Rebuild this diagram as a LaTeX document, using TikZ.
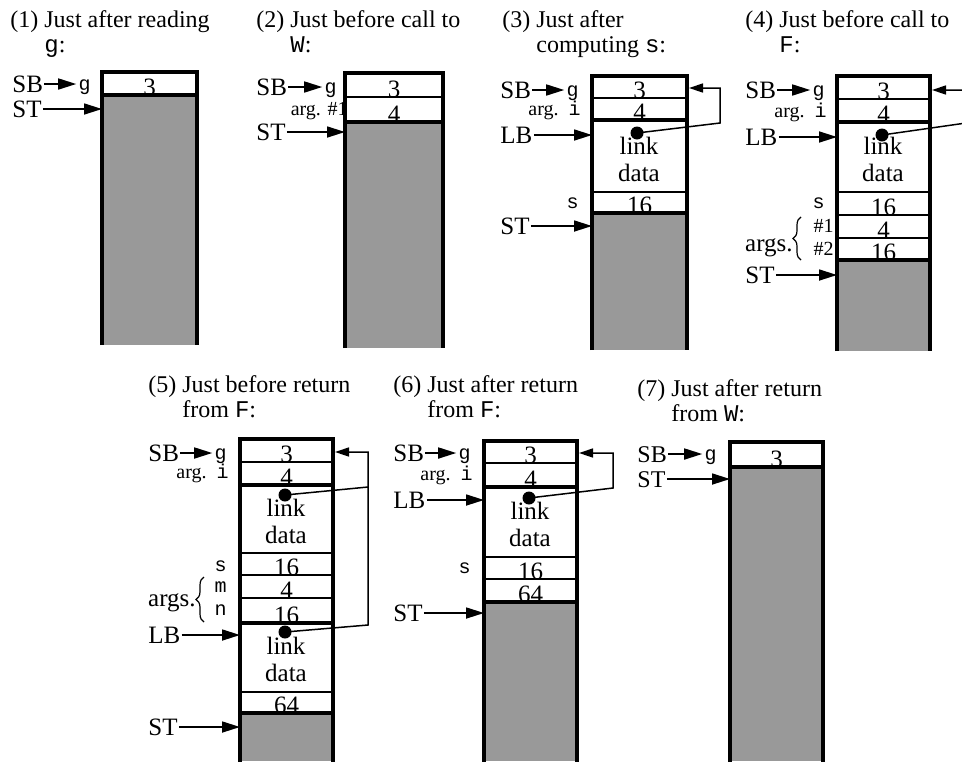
\documentclass[tikz,border=0pt]{standalone}
\usepackage{fontspec}
\setmainfont{Liberation Serif}
\setmonofont{Liberation Mono}
\usetikzlibrary{arrows.meta,decorations.pathreplacing}

\tikzset{
    frame/.style={line width=1.6pt},
    slot/.style={line width=0.7pt},
    sep/.style={line width=1.6pt},
    free/.style={fill=black!40},
    ptr/.style={-{Triangle[length=9pt,width=5.5pt]}, line width=0.85pt},
    back/.style={-{Triangle[length=7pt,width=4.5pt]}, line width=0.75pt},
    title/.style={anchor=north west, align=left, inner sep=0pt, font=\fontsize{12}{12.5}\selectfont},
    reg/.style={anchor=west, inner sep=0.5pt, text height=8.4pt, text depth=0pt, font=\fontsize{12.5}{12.5}\selectfont},
    var/.style={anchor=east, inner sep=1pt, text height=7pt, text depth=1.5pt, font=\fontsize{10}{10}\ttfamily},
    small/.style={anchor=east, inner sep=0pt, text height=7pt, text depth=1.5pt, font=\fontsize{10}{10}\selectfont},
    val/.style={anchor=base, inner sep=0pt, font=\fontsize{12.5}{12.5}\selectfont},
    link/.style={align=center, inner sep=0pt, font=\fontsize{12.5}{13.5}\selectfont},
    dot/.style={circle, fill, inner sep=0pt, minimum size=6.5pt},
    brace/.style={decorate, decoration={brace, amplitude=4pt}, line width=0.6pt},
}

\begin{document}
\begin{tikzpicture}[x=0.5pt, y=-0.5pt]
    \useasboundingbox (0,0) rectangle (962,761);

    % (1) 读入 g 之后
    \node[title] (t1) at (10,10) {(1) Just after reading\\\phantom{(1) }\texttt{g}:};
    \fill[free] (102,95) rectangle (197,345);
    \draw[sep] (102,95) -- (197,95);
    \draw[frame] (102,345) -- (102,72) -- (197,72) -- (197,345);
    \node[val] (v1a) at (149.5,95) {3};
    \node[reg] (sb1) at (11,84) {SB};
    \node[var] (g1) at (93,85) {g};
    \draw[ptr] (sb1) -- (sb1 -| g1.west);
    \node[reg] (stl1) at (11,109) {ST};
    \coordinate (st1) at (102,109);
    \draw[ptr] (stl1) -- (st1);

    % (2) 调用 W 之前
    \node[title] (t2) at (256,10) {(2) Just before call to\\\phantom{(2) }\texttt{W}:};
    \fill[free] (345,122) rectangle (443,348);
    \draw[slot] (345,97) -- (443,97);
    \draw[sep] (345,122) -- (443,122);
    \draw[frame] (345,348) -- (345,73) -- (443,73) -- (443,348);
    \node[val] (v2a) at (394,97) {3};
    \node[val] (v2b) at (394,122) {4};
    \node[reg] (sb2) at (255,87) {SB};
    \node[var] (g2) at (339,88) {g};
    \draw[ptr] (sb2) -- (sb2 -| g2.west);
    \node[small] (a2) at (348,110) {arg. \#1};
    \node[reg] (stl2) at (255,132) {ST};
    \coordinate (st2) at (345,132);
    \draw[ptr] (stl2) -- (st2);

    % (3) 计算 s 之后
    \node[title] (t3) at (502,10) {(3) Just after\\\phantom{(3) }computing \texttt{s}:};
    \fill[free] (592,213) rectangle (687,350);
    \foreach \y in {98,192} \draw[slot] (592,\y) -- (687,\y);
    \foreach \y in {120,213} \draw[sep] (592,\y) -- (687,\y);
    \draw[frame] (592,350) -- (592,76) -- (687,76) -- (687,350);
    \node[val] (v3a) at (639.5,98) {3};
    \node[val] (v3b) at (639.5,120) {4};
    \node[link] (l3) at (639,159) {link\\data};
    \node[val] (v3c) at (639.5,213) {16};
    \node[reg] (sb3) at (499,90) {SB};
    \node[var] (g3) at (581,91) {g};
    \draw[ptr] (sb3) -- (sb3 -| g3.west);
    \node[small] (a3) at (581,110) {arg.\ \ \texttt{i}};
    \node[reg] (lb3) at (499,135) {LB};
    \coordinate (lk3) at (592,135);
    \draw[ptr] (lb3) -- (lk3);
    \node[var] (s3) at (581,203) {s};
    \node[reg] (stl3) at (499,226) {ST};
    \coordinate (st3) at (592,226);
    \draw[ptr] (stl3) -- (st3);
    % 静态链
    \node[dot] (d3) at (637,133) {};
    \coordinate (top3) at (689,88);
    \draw[back] (d3.center) -- (720,123) |- (top3);

    % (4) 调用 F 之前
    \node[title] (t4) at (745,10) {(4) Just before call to\\\phantom{(4) }\texttt{F}:};
    \fill[free] (837,260) rectangle (930,351);
    \foreach \y in {99,192,215,238} \draw[slot] (837,\y) -- (930,\y);
    \foreach \y in {122,260} \draw[sep] (837,\y) -- (930,\y);
    \draw[frame] (837,351) -- (837,76) -- (930,76) -- (930,351);
    \node[val] (v4a) at (883.5,99) {3};
    \node[val] (v4b) at (883.5,122) {4};
    \node[link] (l4) at (883,159) {link\\data};
    \node[val] (v4c) at (883.5,215) {16};
    \node[val] (v4d) at (883.5,238) {4};
    \node[val] (v4e) at (883.5,260) {16};
    \node[reg] (sb4) at (744,90) {SB};
    \node[var] (g4) at (827,91) {g};
    \draw[ptr] (sb4) -- (sb4 -| g4.west);
    \node[small] (a4) at (827,112) {arg.\ \ \texttt{i}};
    \node[reg] (lb4) at (744,137) {LB};
    \coordinate (lk4) at (837,137);
    \draw[ptr] (lb4) -- (lk4);
    \node[var] (s4) at (827,203) {s};
    \node[small] (n41) at (834,227) {\#1};
    \node[small] (n42) at (834,250) {\#2};
    \draw[brace] (801,260) -- (801,217);
    \node[reg, anchor=east] (ar4) at (794,243) {args.};
    \node[reg] (stl4) at (744,275) {ST};
    \coordinate (st4) at (837,275);
    \draw[ptr] (stl4) -- (st4);
    \node[dot] (d4) at (882,135) {};
    \coordinate (top4) at (932,90);
    \draw[back] (d4.center) -- (966,123) |- (top4);

    % (5) 从 F 返回之前
    \node[title] (t5) at (148,375) {(5) Just before return\\\phantom{(5) }from \texttt{F}:};
    \fill[free] (240,713) rectangle (333,761);
    \foreach \y in {462,553,575,598,692} \draw[slot] (240,\y) -- (333,\y);
    \foreach \y in {485,623,713} \draw[sep] (240,\y) -- (333,\y);
    \draw[frame] (240,762) -- (240,439) -- (333,439) -- (333,762);
    \node[val] (v5a) at (286.5,462) {3};
    \node[val] (v5b) at (286.5,485) {4};
    \node[link] (l5a) at (286,521) {link\\data};
    \node[val] (v5c) at (286.5,575) {16};
    \node[val] (v5d) at (286.5,598) {4};
    \node[val] (v5e) at (286.5,623) {16};
    \node[link] (l5b) at (286,659) {link\\data};
    \node[val] (v5f) at (286.5,713) {64};
    \node[reg] (sb5) at (147,453) {SB};
    \node[var] (g5) at (229,454) {g};
    \draw[ptr] (sb5) -- (sb5 -| g5.west);
    \node[small] (a5) at (229,473) {arg.\ \ \texttt{i}};
    \node[var] (s5) at (229,566) {s};
    \node[var] (m5) at (229,587) {m};
    \node[var] (n5) at (229,610) {n};
    \draw[brace] (204,622) -- (204,577);
    \node[reg, anchor=east] (ar5) at (197,598) {args.};
    \node[reg] (lb5) at (147,635) {LB};
    \coordinate (lk5) at (240,635);
    \draw[ptr] (lb5) -- (lk5);
    \node[reg] (stl5) at (147,727) {ST};
    \coordinate (st5) at (240,727);
    \draw[ptr] (stl5) -- (st5);
    \node[dot] (d5a) at (285,495) {};
    \node[dot] (d5b) at (285,632) {};
    \coordinate (top5) at (335,452);
    \draw[back] (d5b.center) -- (368,625) |- (top5);
    \draw[line width=0.75pt] (d5a.center) -- (368,487);

    % (6) 从 F 返回之后
    \node[title] (t6) at (393,375) {(6) Just after return\\\phantom{(6) }from \texttt{F}:};
    \fill[free] (484,602) rectangle (577,761);
    \foreach \y in {463,557,579} \draw[slot] (484,\y) -- (577,\y);
    \foreach \y in {487,602} \draw[sep] (484,\y) -- (577,\y);
    \draw[frame] (484,762) -- (484,441) -- (577,441) -- (577,762);
    \node[val] (v6a) at (530.5,463) {3};
    \node[val] (v6b) at (530.5,487) {4};
    \node[link] (l6) at (530,524) {link\\data};
    \node[val] (v6c) at (530.5,579) {16};
    \node[val] (v6d) at (530.5,602) {64};
    \node[reg] (sb6) at (392,453) {SB};
    \node[var] (g6) at (473,454) {g};
    \draw[ptr] (sb6) -- (sb6 -| g6.west);
    \node[small] (a6) at (473,475) {arg.\ \ \texttt{i}};
    \node[reg] (lb6) at (392,500) {LB};
    \coordinate (lk6) at (484,500);
    \draw[ptr] (lb6) -- (lk6);
    \node[var] (s6) at (473,568) {s};
    \node[reg] (stl6) at (392,613) {ST};
    \coordinate (st6) at (484,613);
    \draw[ptr] (stl6) -- (st6);
    \node[dot] (d6) at (529,498) {};
    \coordinate (top6) at (579,453);
    \draw[back] (d6.center) -- (613,488) |- (top6);

    % (7) 从 W 返回之后
    \node[title] (t7) at (637,379) {(7) Just after return\\\phantom{(7) }from \texttt{W}:};
    \fill[free] (730,467) rectangle (823,761);
    \draw[sep] (730,467) -- (823,467);
    \draw[frame] (730,762) -- (730,442) -- (823,442) -- (823,762);
    \node[val] (v7a) at (776.5,467) {3};
    \node[reg, font=\fontsize{12}{12}\selectfont] (sb7) at (636,454) {SB};
    \node[var] (g7) at (719,455) {g};
    \draw[ptr] (sb7) -- (sb7 -| g7.west);
    \node[reg, font=\fontsize{12}{12}\selectfont] (stl7) at (636,479) {ST};
    \coordinate (st7) at (730,479);
    \draw[ptr] (stl7) -- (st7);
\end{tikzpicture}
\end{document}
